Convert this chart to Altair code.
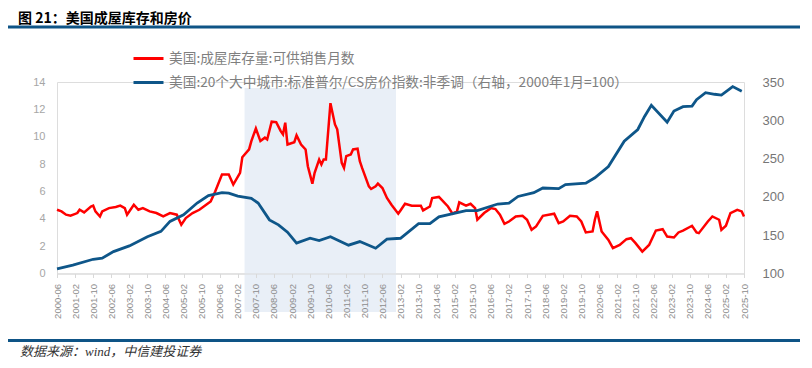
import altair as alt
import pandas as pd

# ---------------- data ----------------
months = [p.strftime('%Y-%m') for p in pd.period_range('2000-06', '2025-10', freq='M')]
tick_months = months[::8]

series_names = [
    "美国:成屋库存量:可供销售月数",
    "美国:20个大中城市:标准普尔/CS房价指数:非季调（右轴，2000年1月=100）",
]
series_colors = ["#FF0000", "#0E5689"]

inv_dates = [
    "2000-06", "2000-08", "2000-10", "2000-12", "2001-03", "2001-04", "2001-06", "2001-09", "2001-10", "2001-11",
    "2002-01", "2002-02", "2002-05", "2002-08", "2002-10", "2002-12", "2003-01", "2003-04", "2003-06", "2003-08",
    "2003-11", "2004-02", "2004-05", "2004-08", "2004-11", "2005-01", "2005-03", "2005-06", "2005-09", "2005-12",
    "2006-02", "2006-04", "2006-07", "2006-10", "2006-12", "2007-03", "2007-04", "2007-07", "2007-08", "2007-10",
    "2007-12", "2008-02", "2008-03", "2008-05", "2008-07", "2008-09", "2008-10", "2008-11", "2008-12", "2009-03",
    "2009-04", "2009-06", "2009-08", "2009-09", "2009-11", "2009-12", "2010-02", "2010-03", "2010-04", "2010-05",
    "2010-07", "2010-09", "2010-10", "2010-12", "2011-01", "2011-02", "2011-04", "2011-05", "2011-07", "2011-08",
    "2011-09", "2011-12", "2012-01", "2012-03", "2012-04", "2012-06", "2012-08", "2012-10", "2013-01", "2013-02",
    "2013-04", "2013-07", "2013-11", "2013-12", "2014-03", "2014-04", "2014-07", "2014-11", "2015-01", "2015-03",
    "2015-04", "2015-07", "2015-09", "2015-11", "2015-12", "2016-03", "2016-06", "2016-08", "2016-10", "2016-12",
    "2017-02", "2017-05", "2017-08", "2017-10", "2017-12", "2018-02", "2018-05", "2018-10", "2018-12", "2019-02",
    "2019-05", "2019-08", "2019-10", "2019-12", "2020-03", "2020-04", "2020-05", "2020-07", "2020-10", "2020-12",
    "2021-03", "2021-06", "2021-08", "2021-10", "2022-01", "2022-04", "2022-07", "2022-10", "2022-12", "2023-03",
    "2023-05", "2023-07", "2023-11", "2024-01", "2024-02", "2024-06", "2024-08", "2024-11", "2024-12", "2025-02",
    "2025-04", "2025-07", "2025-09", "2025-10",
]
inv_values = [
    4.66, 4.54, 4.30, 4.22, 4.42, 4.66, 4.47, 4.90, 4.96, 4.54,
    4.17, 4.54, 4.78, 4.86, 4.96, 4.78, 4.30, 5.03, 4.66, 4.78,
    4.54, 4.42, 4.17, 4.42, 4.30, 3.56, 4.05, 4.42, 4.66, 5.03,
    5.27, 6.00, 7.23, 7.23, 6.50, 7.36, 8.50, 9.07, 9.68, 10.60,
    9.68, 9.93, 9.80, 11.10, 11.07, 10.41, 10.17, 11.03, 9.43, 9.60,
    10.10, 9.43, 9.07, 7.84, 6.57, 7.36, 8.33, 7.97, 8.33, 8.33,
    12.45, 10.90, 10.54, 8.09, 7.72, 8.58, 8.70, 9.07, 9.12, 8.21,
    7.72, 6.37, 6.18, 6.37, 6.57, 6.25, 5.52, 5.03, 4.37, 4.61,
    5.10, 4.96, 4.96, 4.61, 4.90, 5.52, 5.60, 4.90, 4.37, 4.54,
    5.20, 4.96, 5.10, 4.78, 3.93, 4.42, 4.78, 4.71, 4.30, 3.63,
    3.80, 4.17, 4.22, 3.93, 3.19, 3.44, 4.22, 4.37, 3.68, 3.80,
    4.22, 4.17, 3.80, 3.00, 3.07, 3.93, 4.54, 3.07, 2.46, 1.85,
    2.09, 2.51, 2.58, 2.22, 1.60, 2.09, 3.14, 3.24, 2.70, 2.63,
    3.00, 3.14, 3.49, 3.00, 2.95, 3.80, 4.17, 3.93, 3.19, 3.49,
    4.42, 4.66, 4.54, 4.17,
]

hpi_dates = [
    "2000-06", "2001-01", "2001-10", "2002-02", "2002-07", "2003-02", "2003-10", "2004-04", "2004-08", "2005-02",
    "2005-08", "2006-01", "2006-07", "2006-10", "2007-02", "2007-08", "2007-11", "2008-04", "2008-08", "2008-12",
    "2009-04", "2009-10", "2010-02", "2010-07", "2011-03", "2011-08", "2012-03", "2012-08", "2013-02", "2013-10",
    "2014-03", "2014-07", "2015-07", "2015-12", "2016-09", "2017-02", "2017-06", "2018-01", "2018-05", "2018-12",
    "2019-03", "2019-12", "2020-04", "2020-10", "2021-05", "2021-11", "2022-02", "2022-05", "2022-12", "2023-03",
    "2023-07", "2023-11", "2024-01", "2024-05", "2024-09", "2024-12", "2025-05", "2025-09",
]
hpi_values = [
    106.0, 111.0, 118.6, 120.0, 128.6, 136.0, 148.0, 155.0, 168.0, 176.7,
    192.0, 201.6, 205.5, 205.0, 201.0, 198.0, 192.0, 170.0, 163.5, 154.0,
    139.6, 146.0, 143.0, 148.0, 137.0, 141.7, 133.0, 144.8, 146.0, 165.0,
    165.0, 174.0, 182.0, 182.0, 190.7, 192.0, 200.6, 205.5, 211.6, 210.7,
    216.0, 218.0, 225.0, 239.6, 272.7, 288.0, 305.0, 319.5, 297.6, 312.0,
    317.8, 318.6, 327.0, 336.0, 334.0, 333.0, 344.0, 338.0,
]

shade_start = ["2007-05"]
shade_end = ["2012-12"]

title_text = ["图 21：美国成屋库存和房价"]
source_text = ["数据来源：wind，中信建投证券"]

# ---------------- chart ----------------
inv_df = pd.DataFrame({"month": inv_dates, "value": inv_values, "series": series_names[0]})
hpi_df = pd.DataFrame({"month": hpi_dates, "value": hpi_values, "series": series_names[1]})

W, H = 687, 191.5
X0, Y0 = 57, 82  # plot origin on page

xscale = alt.Scale(type="point", domain=months, padding=0)
xaxis = alt.Axis(
    values=tick_months, labelAngle=270, labelFontSize=9.5, labelColor="#8C8C8C",
    labelPadding=6, tickColor="#D9D9D9", tickSize=4, domainColor="#D9D9D9",
    grid=False, title=None, labelFont="Liberation Sans",
)

color = alt.Color(
    "series:N",
    scale=alt.Scale(domain=series_names, range=series_colors),
    legend=alt.Legend(
        title=None, orient="none", legendX=75, legendY=-40, direction="vertical",
        symbolType="stroke", symbolSize=900, symbolStrokeWidth=3,
        labelFontSize=13.7, labelColor="#7F7F7F", labelFont="Noto Sans CJK SC",
        labelLimit=800, labelOffset=4, rowPadding=-3.4, padding=0,
    ),
)

shade = alt.Chart(pd.DataFrame({"start": shade_start, "end": shade_end})).mark_rect(
    color="#E9EFF7"
).encode(
    x=alt.X("start:O", scale=xscale, axis=xaxis),
    x2="end",
    y=alt.value(88 - Y0),
    y2=alt.value(312 - Y0),
)

red = alt.Chart(inv_df).mark_line(strokeWidth=2.5).encode(
    x=alt.X("month:O", scale=xscale, axis=xaxis),
    y=alt.Y(
        "value:Q",
        scale=alt.Scale(domain=[0, 14], nice=False, zero=False),
        axis=alt.Axis(values=list(range(0, 15, 2)), orient="left", domain=False, ticks=False,
                      grid=False, title=None, labelFontSize=11, labelColor="#A6A6A6",
                      labelPadding=12, labelFont="Liberation Sans"),
    ),
    color=color,
)

blue = alt.Chart(hpi_df).mark_line(strokeWidth=2.8).encode(
    x=alt.X("month:O", scale=xscale, axis=xaxis),
    y=alt.Y(
        "value:Q",
        scale=alt.Scale(domain=[100, 350], nice=False, zero=False),
        axis=alt.Axis(values=list(range(100, 351, 50)), orient="right", domain=False, ticks=False,
                      grid=False, title=None, labelFontSize=13, labelColor="#767676",
                      labelPadding=18, labelFont="Liberation Sans"),
    ),
    color=color,
)

lines = alt.layer(red, blue).resolve_scale(y="independent")

title = alt.Chart(pd.DataFrame({"t": title_text})).mark_text(
    align="left", baseline="middle", fontSize=14, fontWeight="bold",
    font="Noto Sans CJK SC", color="#000000",
).encode(x=alt.value(18 - X0), y=alt.value(18.5 - Y0), text="t:N")

source = alt.Chart(pd.DataFrame({"t": source_text})).mark_text(
    align="left", baseline="middle", fontSize=13, fontStyle="italic",
    font="Liberation Serif, Noto Sans CJK SC", color="#333333",
).encode(x=alt.value(20 - X0), y=alt.value(352 - Y0), text="t:N")

top_rule = alt.Chart(pd.DataFrame({"a": [0]})).mark_rule(color="#0E5486", strokeWidth=3).encode(
    x=alt.value(8 - X0), x2=alt.value(800 - X0), y=alt.value(27 - Y0)
)
bottom_rule = alt.Chart(pd.DataFrame({"a": [0]})).mark_rule(color="#0E5486", strokeWidth=3).encode(
    x=alt.value(8 - X0), x2=alt.value(800 - X0), y=alt.value(340.5 - Y0)
)

chart = alt.layer(shade, lines, title, source, top_rule, bottom_rule).properties(
    width=W, height=H,
    padding={"left": X0 - 8, "top": Y0 - 8, "right": 812 - 16 - (X0 - 8) - W, "bottom": 368 - 16 - (Y0 - 8) - H},
    autosize=alt.AutoSizeParams(type="none"),
).configure_view(stroke=None).configure(background="#FFFFFF")

chart.save("out.html", embed_options={"renderer": "svg", "actions": False})
